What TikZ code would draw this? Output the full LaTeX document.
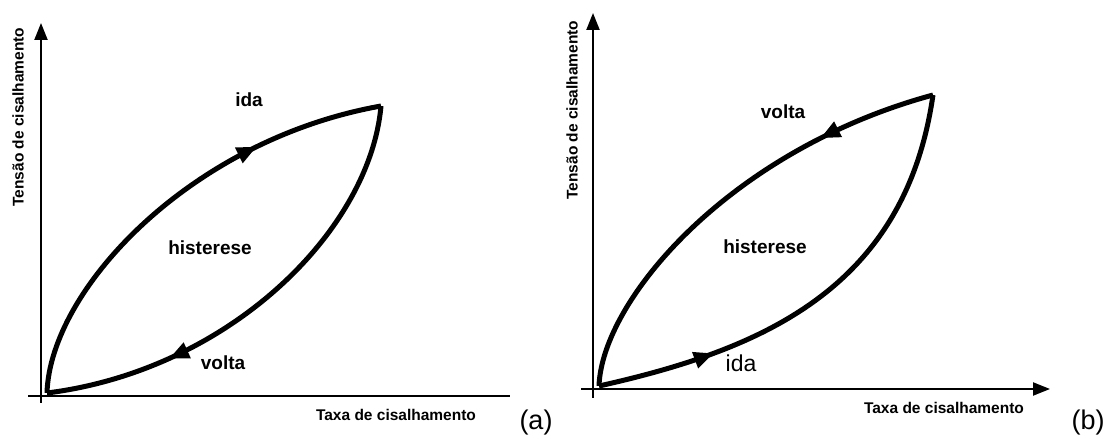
\documentclass[tikz,border=0pt]{standalone}
\usepackage{fontspec}
\setmainfont{Liberation Sans}
\usetikzlibrary{arrows.meta,decorations.markings}
\begin{document}
\begin{tikzpicture}[x=1pt,y=-1pt,
  axisline/.style={line width=2.2pt},
  axis/.style={axisline,-{Triangle[length=17pt,width=13pt]}},
  loopcurve/.style={line width=5pt},
  axislbl/.style={font=\bfseries\fontsize{15.5}{18}\selectfont, inner sep=0pt},
  curvelbl/.style={font=\bfseries\fontsize{19}{22}\selectfont, inner sep=0pt},
  panellbl/.style={font=\fontsize{27}{30}\selectfont, inner sep=0pt},
  midarrow/.style={postaction={decorate,decoration={markings,
      mark=at position #1 with {\arrow{Triangle[length=20pt,width=16pt]}}}}}
]
\useasboundingbox (0,0) rectangle (1112,438);

% ---------- panel (a) ----------
\coordinate (ay0) at (41,403);
\coordinate (ay1) at (41,23);
\coordinate (ax0) at (28,396);
\coordinate (ax1) at (510,396);
\draw[axis] (ay0) -- (ay1);
\draw[axisline] (ax0) -- (ax1);
\coordinate (oa) at (47,393);
\coordinate (pa) at (381,106);
\draw[loopcurve, midarrow=0.72] (oa) .. controls (50,290) and (190,140) .. (pa);
\draw[loopcurve, midarrow=0.73] (pa) .. controls (370,230) and (230,370) .. (oa);
\node[curvelbl] (ida-a) at (249,100) {ida};
\node[curvelbl] (hist-a) at (210,248) {histerese};
\node[curvelbl] (volta-a) at (223,363) {volta};
\node[axislbl] (tx-a) at (396,415) {Taxa de cisalhamento};
\node[axislbl, rotate=90] (ty-a) at (18,117) {Tensão de cisalhamento};
\node[panellbl] (lab-a) at (536,423) {(a)};

% ---------- panel (b) ----------
\coordinate (by0) at (593,398);
\coordinate (by1) at (593,13);
\coordinate (bx0) at (581,389);
\coordinate (bx1) at (1050,389);
\draw[axis] (by0) -- (by1);
\draw[axis] (bx0) -- (bx1);
\coordinate (ob) at (599,386);
\coordinate (pb) at (933,95);
\draw[loopcurve, midarrow=0.26] (pb) .. controls (730,150) and (602,300) .. (ob);
\draw[loopcurve, midarrow=0.25] (ob) .. controls (760,350) and (905,290) .. (pb);
\node[curvelbl] (volta-b) at (783,112) {volta};
\node[curvelbl] (hist-b) at (765,247) {histerese};
\node[font=\fontsize{23}{26}\selectfont, inner sep=0pt] (ida-b) at (741,363) {ida};
\node[axislbl] (tx-b) at (944,408) {Taxa de cisalhamento};
\node[axislbl, rotate=90] (ty-b) at (572,110) {Tensão de cisalhamento};
\node[panellbl] (lab-b) at (1088,423) {(b)};
\end{tikzpicture}
\end{document}
